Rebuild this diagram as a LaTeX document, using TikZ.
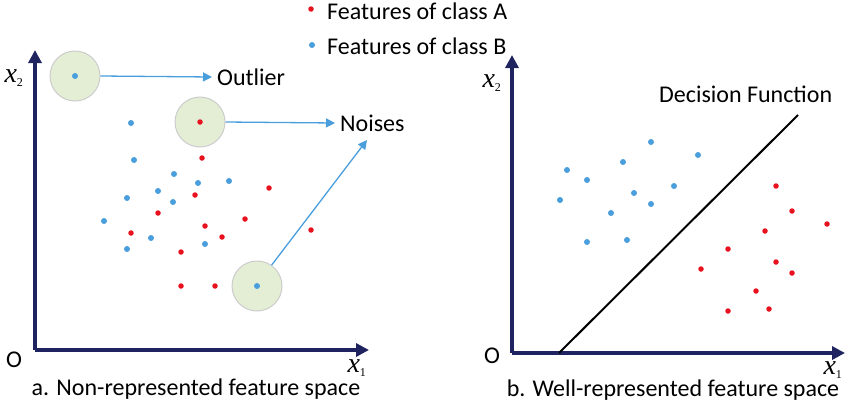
\documentclass[tikz,border=0pt]{standalone}
\usepackage{fontspec}
\setmainfont{Carlito}
\newfontfamily\tms{Liberation Serif}
\usetikzlibrary{arrows.meta}
\definecolor{navy}{HTML}{1F2460}
\definecolor{ptred}{HTML}{E8121E}
\definecolor{ptblue}{HTML}{4A9EDB}
\definecolor{halo}{HTML}{E3EED5}
\begin{document}
\begin{tikzpicture}[x=1pt,y=-1pt,
  txt/.style={font=\fontsize{24}{26}\selectfont,inner sep=0pt},
  var/.style={font=\tms\itshape\fontsize{28}{30}\selectfont,inner sep=0pt},
  axis/.style={navy,line width=3.5pt,-{Triangle[length=13pt,width=13pt]}},
  pa/.style={ptblue,line width=1.3pt,-{Triangle[length=9pt,width=9pt]}},
  ra/.style={circle,fill=ptred,inner sep=0pt,minimum size=5.5pt},
  bb/.style={circle,fill=ptblue,inner sep=0pt,minimum size=6pt},
  hl/.style={circle,fill=halo,draw=black!20,line width=1pt,minimum size=50pt,inner sep=0pt}]
\useasboundingbox (0,0) rectangle (850,402);
% legend
\node[ra] (la) at (311,9) {};
\node[txt,anchor=west] (lat) at (327,11) {Features of class A};
\node[bb] (lb) at (312,45) {};
\node[txt,anchor=west] (lbt) at (327,46) {Features of class B};
% left axes
\coordinate (o1) at (35,350);
\coordinate (y1) at (35,50);
\coordinate (x1) at (369,350);
\draw[axis] (o1) -- (y1);
\draw[axis] (o1) -- (x1);
\node[txt] (O1) at (14,360) {O};
\node[var] (lx2) at (14,78) {x\textsubscript{\tms\upshape\fontsize{12}{12}\selectfont 2}};
\node[var] (lx1) at (357,368) {x\textsubscript{\tms\upshape\fontsize{12}{12}\selectfont 1}};
\node[txt] (ca) at (196,389) {a. Non-represented feature space};
% halos
\node[hl] (h1) at (75,76) {};
\node[hl] (h2) at (200,122) {};
\node[hl] (h3) at (257,286) {};
\node[bb] (p1) at (75,76) {};
\node[ra] (p2) at (200,122) {};
\node[bb] (p3) at (257,286) {};
\node[txt,anchor=west] (outl) at (217,77) {Outlier};
\node[txt,anchor=west] (nois) at (340,123) {Noises};
\draw[pa] (h1.east) -- ([xshift=-5pt]outl.west);
\draw[pa] (h2.east) -- ([xshift=-5pt]nois.west);
\coordinate (ntip) at (367,140);
\draw[pa] (h3.55) -- (ntip);
% left dots
\foreach \x/\y [count=\i] in {131/123,134/160,174/174,198/183,229/181,158/191,127/198,173/202,104/221,151/238,127/249,205/244}
  \node[bb] (lb\i) at (\x,\y) {};
\foreach \x/\y [count=\i] in {202/158,195/195,269/188,158/213,245/219,311/230,131/233,205/226,222/237,181/252,181/286,215/286}
  \node[ra] (lr\i) at (\x,\y) {};
% right axes
\coordinate (o2) at (512,353);
\coordinate (y2) at (512,55);
\coordinate (x2) at (845,353);
\draw[axis] (o2) -- (y2);
\draw[axis] (o2) -- (x2);
\node[txt] (O2) at (492,356) {O};
\node[var] (rx2) at (492,83) {x\textsubscript{\tms\upshape\fontsize{12}{12}\selectfont 2}};
\node[var] (rx1) at (833,370) {x\textsubscript{\tms\upshape\fontsize{12}{12}\selectfont 1}};
\node[txt] (cb) at (673,390) {b. Well-represented feature space};
\coordinate (d1) at (559,353);
\coordinate (d2) at (798,115);
\draw[black,line width=2pt] (d1) -- (d2);
\node[txt,anchor=west] (df) at (659,94) {Decision Function};
\foreach \x/\y [count=\i] in {567/170,587/180,560/200,623/162,651/142,698/155,674/186,634/193,651/204,611/213,587/242,627/240}
  \node[bb] (rb\i) at (\x,\y) {};
\foreach \x/\y [count=\i] in {776/186,792/211,827/224,765/231,728/249,776/262,792/273,701/269,756/291,728/311,769/309}
  \node[ra] (rr\i) at (\x,\y) {};
\end{tikzpicture}
\end{document}
